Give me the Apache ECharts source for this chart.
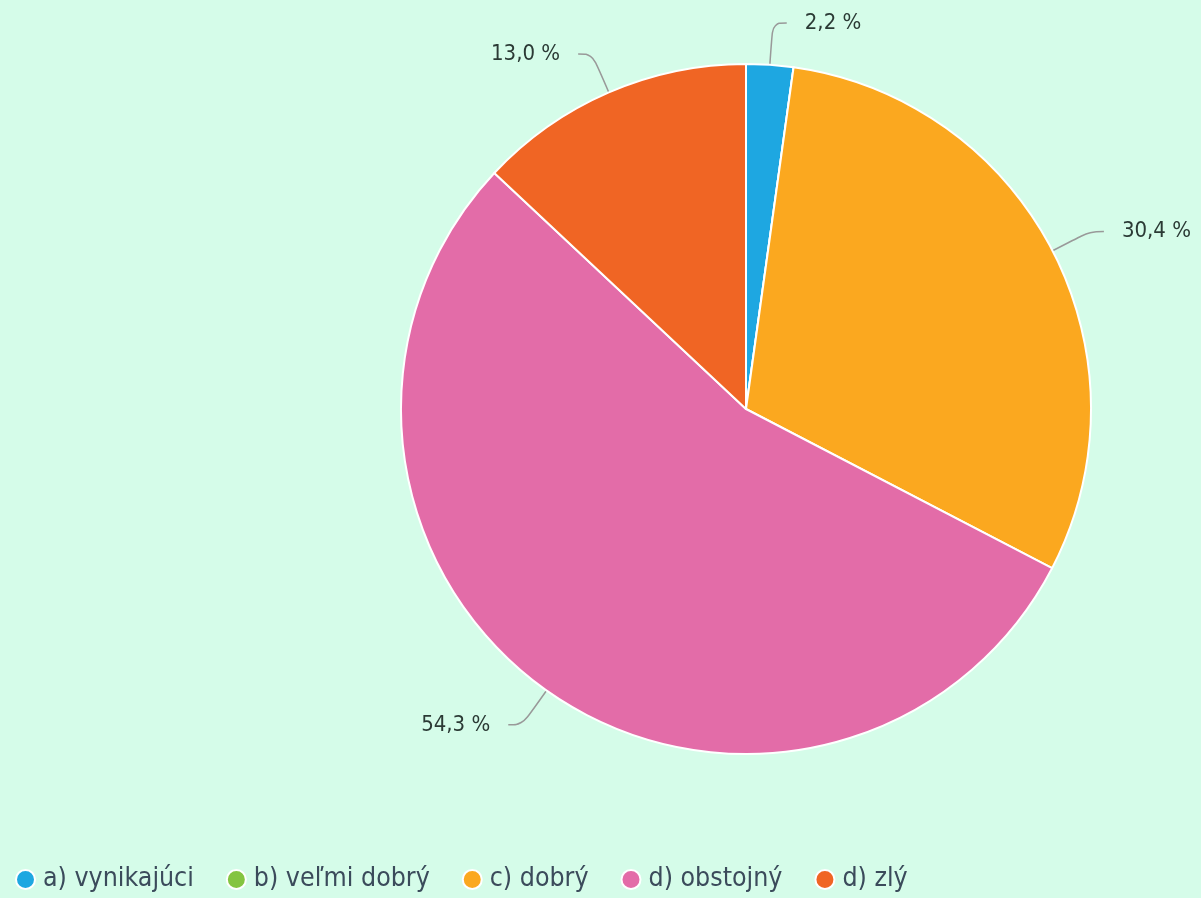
<!DOCTYPE html>
<html><head><meta charset="utf-8">
<script src="https://cdn.jsdelivr.net/npm/echarts@6/dist/echarts.min.js"></script>
<style>html,body{margin:0;padding:0;background:#d5fce9;}#c{width:1201px;height:898px;}</style>
</head><body><div id="c"></div>
<script>
const categories = ['a) vynikajúci','b) veľmi dobrý','c) dobrý','d) obstojný','d) zlý'];
const values = [2.2, 0, 30.4, 54.3, 13.0];
const colors = ['#1ea7e1','#84c441','#fba81f','#e36ca8','#f06524'];
const font = '"DejaVu Sans Condensed","DejaVu Sans",sans-serif';
const chart = echarts.init(document.getElementById('c'));
chart.setOption({
  backgroundColor:'#d5fce9',
  color: colors,
  animation:false,
  legend:{
    left:10, bottom:0, icon:'circle', itemWidth:19, itemHeight:19, itemGap:32,
    textStyle:{fontFamily:font, fontSize:26.5, color:'#3b4b5b', padding:[0,0,0,3]},
    data: categories
  },
  series:[{
    type:'pie', center:[746,409], radius:345, startAngle:90, clockwise:true,
    itemStyle:{borderColor:'#ffffff', borderWidth:2},
    label:{fontFamily:font, fontSize:22, color:'#2b3a35', distanceToLabelLine:18, overflow:'none',
      formatter:p=>p.value.toFixed(1).replace('.',',')+' %'},
    labelLine:{length:42, length2:14, smooth:0.4, lineStyle:{color:'#999', width:1.5}},
    data: categories.map((n,i)=>{
      const d={name:n, value:values[i]};
      if(values[i]===0){d.label={show:false}; d.labelLine={show:false};}
      return d;
    })
  }]
});
</script></body></html>
